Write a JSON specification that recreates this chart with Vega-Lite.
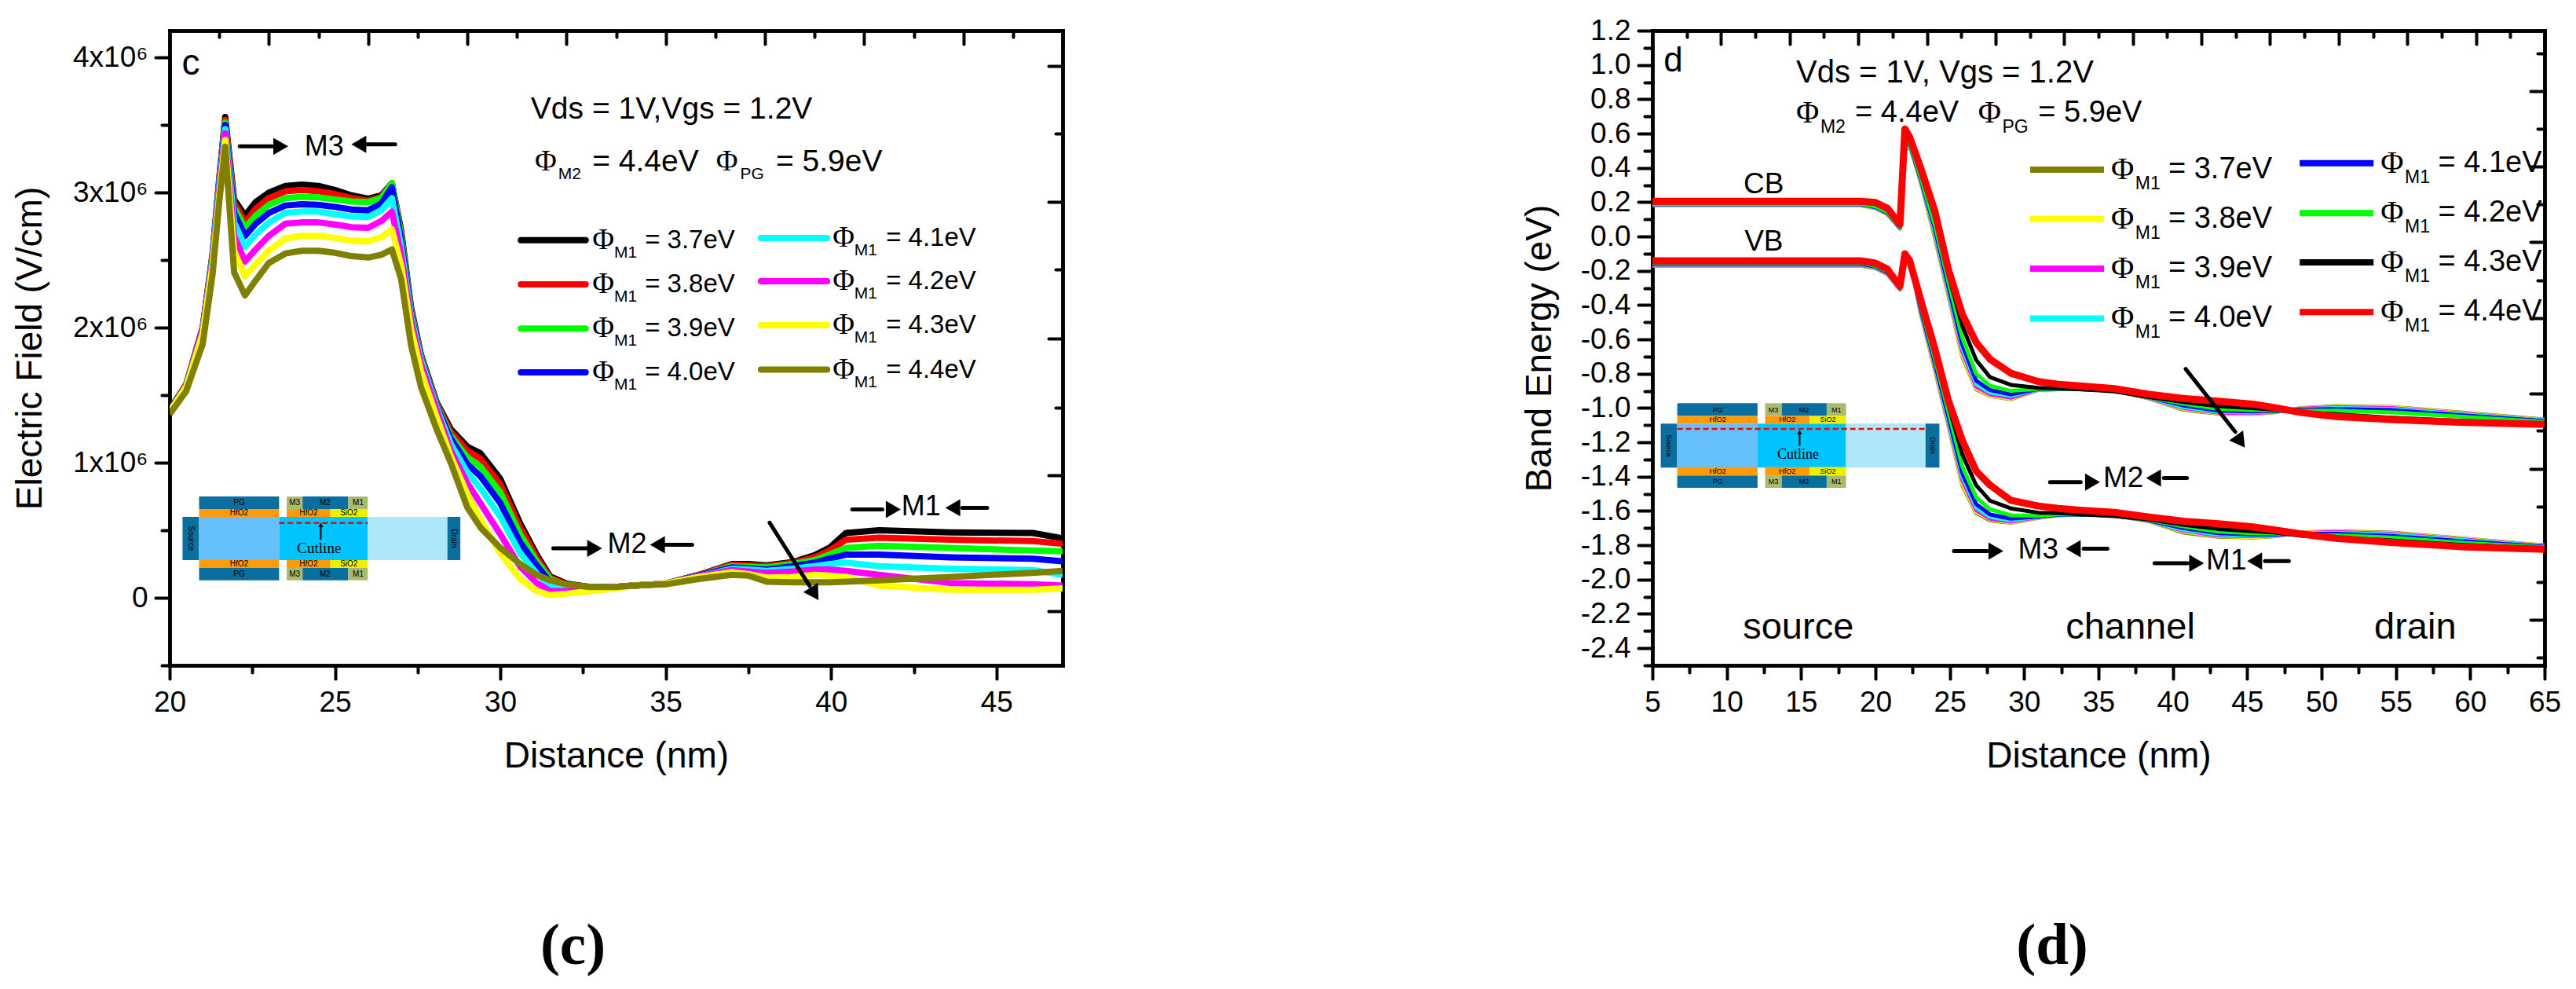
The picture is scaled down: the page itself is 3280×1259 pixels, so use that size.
{"$schema":"https://vega.github.io/schema/vega-lite/v6.json","background":"white","padding":{"left":15,"top":20,"right":0,"bottom":0},"bounds":"flush","spacing":751,"resolve":{"scale":{"color":"independent"}},"config":{"view":{"stroke":null},"legend":{"disable":true},"axis":{"grid":false,"domainColor":"black","domainWidth":4.5,"domainCap":"square","tickColor":"black","tickWidth":4,"tickCap":"round","labelFont":"Liberation Sans","labelFontSize":37,"labelColor":"black","titleFont":"Liberation Sans","titleFontSize":46,"titleFontWeight":"normal","titleColor":"black","labelOverlap":false,"labelFlush":false},"text":{"font":"Liberation Sans","color":"black","baseline":"middle"}},
"datasets":{
"field":[
{"x":20,"phi37":1.39e6,"phi38":1.39e6,"phi39":1.39e6,"phi40":1.39e6,"phi41":1.38e6,"phi42":1.38e6,"phi43":1.38e6,"phi44":1.36e6},
{"x":20.5,"phi37":1.58e6,"phi38":1.58e6,"phi39":1.57e6,"phi40":1.57e6,"phi41":1.57e6,"phi42":1.56e6,"phi43":1.56e6,"phi44":1.53e6},
{"x":21,"phi37":2.0e6,"phi38":2.0e6,"phi39":1.99e6,"phi40":1.99e6,"phi41":1.98e6,"phi42":1.98e6,"phi43":1.96e6,"phi44":1.88e6},
{"x":21.3,"phi37":2.55e6,"phi38":2.55e6,"phi39":2.54e6,"phi40":2.53e6,"phi41":2.52e6,"phi42":2.5e6,"phi43":2.47e6,"phi44":2.4e6},
{"x":21.5,"phi37":3.1e6,"phi38":3.1e6,"phi39":3.09e6,"phi40":3.08e6,"phi41":3.05e6,"phi42":3.02e6,"phi43":2.98e6,"phi44":2.93e6},
{"x":21.68,"phi37":3.56e6,"phi38":3.54e6,"phi39":3.52e6,"phi40":3.5e6,"phi41":3.47e6,"phi42":3.44e6,"phi43":3.39e6,"phi44":3.34e6},
{"x":21.95,"phi37":2.95e6,"phi38":2.93e6,"phi39":2.89e6,"phi40":2.85e6,"phi41":2.78e6,"phi42":2.68e6,"phi43":2.57e6,"phi44":2.41e6},
{"x":22.28,"phi37":2.83e6,"phi38":2.78e6,"phi39":2.74e6,"phi40":2.68e6,"phi41":2.6e6,"phi42":2.49e6,"phi43":2.38e6,"phi44":2.24e6},
{"x":22.6,"phi37":2.93e6,"phi38":2.88e6,"phi39":2.83e6,"phi40":2.77e6,"phi41":2.69e6,"phi42":2.58e6,"phi43":2.47e6,"phi44":2.35e6},
{"x":23,"phi37":3.0e6,"phi38":2.96e6,"phi39":2.91e6,"phi40":2.85e6,"phi41":2.78e6,"phi42":2.68e6,"phi43":2.57e6,"phi44":2.48e6},
{"x":23.5,"phi37":3.05e6,"phi38":3.01e6,"phi39":2.96e6,"phi40":2.905e6,"phi41":2.85e6,"phi42":2.77e6,"phi43":2.66e6,"phi44":2.55e6},
{"x":24,"phi37":3.06e6,"phi38":3.02e6,"phi39":2.97e6,"phi40":2.915e6,"phi41":2.86e6,"phi42":2.78e6,"phi43":2.68e6,"phi44":2.57e6},
{"x":24.5,"phi37":3.05e6,"phi38":3.01e6,"phi39":2.965e6,"phi40":2.91e6,"phi41":2.86e6,"phi42":2.78e6,"phi43":2.68e6,"phi44":2.57e6},
{"x":25,"phi37":3.02e6,"phi38":2.99e6,"phi39":2.95e6,"phi40":2.895e6,"phi41":2.84e6,"phi42":2.765e6,"phi43":2.665e6,"phi44":2.555e6},
{"x":25.5,"phi37":2.98e6,"phi38":2.96e6,"phi39":2.935e6,"phi40":2.875e6,"phi41":2.825e6,"phi42":2.745e6,"phi43":2.645e6,"phi44":2.53e6},
{"x":26,"phi37":2.955e6,"phi38":2.94e6,"phi39":2.93e6,"phi40":2.87e6,"phi41":2.82e6,"phi42":2.74e6,"phi43":2.64e6,"phi44":2.52e6},
{"x":26.4,"phi37":2.98e6,"phi38":2.97e6,"phi39":2.96e6,"phi40":2.92e6,"phi41":2.87e6,"phi42":2.79e6,"phi43":2.67e6,"phi44":2.54e6},
{"x":26.72,"phi37":3.07e6,"phi38":3.07e6,"phi39":3.07e6,"phi40":3.04e6,"phi41":2.96e6,"phi42":2.86e6,"phi43":2.73e6,"phi44":2.58e6},
{"x":27,"phi37":2.72e6,"phi38":2.7e6,"phi39":2.68e6,"phi40":2.65e6,"phi41":2.6e6,"phi42":2.54e6,"phi43":2.46e6,"phi44":2.36e6},
{"x":27.3,"phi37":2.15e6,"phi38":2.13e6,"phi39":2.12e6,"phi40":2.1e6,"phi41":2.08e6,"phi42":2.05e6,"phi43":1.99e6,"phi44":1.87e6},
{"x":27.6,"phi37":1.8e6,"phi38":1.79e6,"phi39":1.78e6,"phi40":1.77e6,"phi41":1.76e6,"phi42":1.73e6,"phi43":1.68e6,"phi44":1.56e6},
{"x":28.07,"phi37":1.45e6,"phi38":1.44e6,"phi39":1.43e6,"phi40":1.42e6,"phi41":1.41e6,"phi42":1.39e6,"phi43":1.34e6,"phi44":1.25e6},
{"x":28.5,"phi37":1.25e6,"phi38":1.23e6,"phi39":1.2e6,"phi40":1.18e6,"phi41":1.14e6,"phi42":1.09e6,"phi43":1.05e6,"phi44":1.0e6},
{"x":29,"phi37":1.12e6,"phi38":1.09e6,"phi39":1.04e6,"phi40":0.99e6,"phi41":0.93e6,"phi42":0.85e6,"phi43":0.77e6,"phi44":0.67e6},
{"x":29.4,"phi37":1.07e6,"phi38":1.03e6,"phi39":0.97e6,"phi40":0.9e6,"phi41":0.81e6,"phi42":0.7e6,"phi43":0.58e6,"phi44":0.52e6},
{"x":30,"phi37":0.88e6,"phi38":0.84e6,"phi39":0.78e6,"phi40":0.7e6,"phi41":0.6e6,"phi42":0.47e6,"phi43":0.33e6,"phi44":0.37e6},
{"x":30.6,"phi37":0.55e6,"phi38":0.52e6,"phi39":0.47e6,"phi40":0.41e6,"phi41":0.33e6,"phi42":0.23e6,"phi43":0.14e6,"phi44":0.25e6},
{"x":31.1,"phi37":0.32e6,"phi38":0.3e6,"phi39":0.27e6,"phi40":0.24e6,"phi41":0.18e6,"phi42":0.11e6,"phi43":0.05e6,"phi44":0.17e6},
{"x":31.5,"phi37":0.16e6,"phi38":0.15e6,"phi39":0.14e6,"phi40":0.12e6,"phi41":0.09e6,"phi42":0.05e6,"phi43":0.02e6,"phi44":0.13e6},
{"x":32,"phi37":0.105e6,"phi38":0.1e6,"phi39":0.09e6,"phi40":0.08e6,"phi41":0.07e6,"phi42":0.05e6,"phi43":0.03e6,"phi44":0.1e6},
{"x":32.7,"phi37":0.08e6,"phi38":0.08e6,"phi39":0.08e6,"phi40":0.075e6,"phi41":0.07e6,"phi42":0.065e6,"phi43":0.05e6,"phi44":0.08e6},
{"x":33.5,"phi37":0.08e6,"phi38":0.08e6,"phi39":0.08e6,"phi40":0.08e6,"phi41":0.08e6,"phi42":0.08e6,"phi43":0.07e6,"phi44":0.08e6},
{"x":34,"phi37":0.09e6,"phi38":0.09e6,"phi39":0.09e6,"phi40":0.09e6,"phi41":0.09e6,"phi42":0.09e6,"phi43":0.09e6,"phi44":0.09e6},
{"x":35,"phi37":0.105e6,"phi38":0.105e6,"phi39":0.105e6,"phi40":0.105e6,"phi41":0.105e6,"phi42":0.105e6,"phi43":0.105e6,"phi44":0.1e6},
{"x":36,"phi37":0.17e6,"phi38":0.17e6,"phi39":0.165e6,"phi40":0.165e6,"phi41":0.16e6,"phi42":0.16e6,"phi43":0.155e6,"phi44":0.14e6},
{"x":37,"phi37":0.25e6,"phi38":0.245e6,"phi39":0.235e6,"phi40":0.225e6,"phi41":0.215e6,"phi42":0.205e6,"phi43":0.19e6,"phi44":0.17e6},
{"x":37.5,"phi37":0.25e6,"phi38":0.24e6,"phi39":0.23e6,"phi40":0.22e6,"phi41":0.21e6,"phi42":0.195e6,"phi43":0.175e6,"phi44":0.165e6},
{"x":38.05,"phi37":0.24e6,"phi38":0.235e6,"phi39":0.225e6,"phi40":0.21e6,"phi41":0.2e6,"phi42":0.185e6,"phi43":0.15e6,"phi44":0.12e6},
{"x":38.85,"phi37":0.265e6,"phi38":0.26e6,"phi39":0.25e6,"phi40":0.235e6,"phi41":0.215e6,"phi42":0.195e6,"phi43":0.155e6,"phi44":0.115e6},
{"x":39.5,"phi37":0.315e6,"phi38":0.3e6,"phi39":0.28e6,"phi40":0.26e6,"phi41":0.235e6,"phi42":0.21e6,"phi43":0.17e6,"phi44":0.115e6},
{"x":39.95,"phi37":0.37e6,"phi38":0.35e6,"phi39":0.32e6,"phi40":0.29e6,"phi41":0.25e6,"phi42":0.21e6,"phi43":0.165e6,"phi44":0.115e6},
{"x":40.45,"phi37":0.48e6,"phi38":0.43e6,"phi39":0.37e6,"phi40":0.32e6,"phi41":0.26e6,"phi42":0.2e6,"phi43":0.155e6,"phi44":0.12e6},
{"x":41.45,"phi37":0.5e6,"phi38":0.445e6,"phi39":0.385e6,"phi40":0.32e6,"phi41":0.235e6,"phi42":0.17e6,"phi43":0.09e6,"phi44":0.13e6},
{"x":43.6,"phi37":0.485e6,"phi38":0.43e6,"phi39":0.37e6,"phi40":0.3e6,"phi41":0.215e6,"phi42":0.11e6,"phi43":0.06e6,"phi44":0.155e6},
{"x":46.1,"phi37":0.48e6,"phi38":0.42e6,"phi39":0.35e6,"phi40":0.29e6,"phi41":0.205e6,"phi42":0.1e6,"phi43":0.06e6,"phi44":0.185e6},
{"x":47,"phi37":0.44e6,"phi38":0.4e6,"phi39":0.345e6,"phi40":0.27e6,"phi41":0.17e6,"phi42":0.09e6,"phi43":0.07e6,"phi44":0.2e6}
],
"bands":[
{"b":"CB","x":5,"phi37":0.182,"phi38":0.183,"phi39":0.184,"phi40":0.186,"phi41":0.188,"phi42":0.19,"phi43":0.2,"phi44":0.205},
{"b":"CB","x":19,"phi37":0.182,"phi38":0.183,"phi39":0.184,"phi40":0.186,"phi41":0.188,"phi42":0.19,"phi43":0.2,"phi44":0.205},
{"b":"CB","x":20,"phi37":0.165,"phi38":0.166,"phi39":0.168,"phi40":0.17,"phi41":0.172,"phi42":0.175,"phi43":0.19,"phi44":0.198},
{"b":"CB","x":20.8,"phi37":0.13,"phi38":0.131,"phi39":0.133,"phi40":0.135,"phi41":0.138,"phi42":0.142,"phi43":0.155,"phi44":0.165},
{"b":"CB","x":21.65,"phi37":0.046,"phi38":0.047,"phi39":0.048,"phi40":0.05,"phi41":0.052,"phi42":0.055,"phi43":0.065,"phi44":0.07},
{"b":"CB","x":21.98,"phi37":0.5,"phi38":0.51,"phi39":0.52,"phi40":0.53,"phi41":0.54,"phi42":0.56,"phi43":0.6,"phi44":0.627},
{"b":"CB","x":22.3,"phi37":0.53,"phi38":0.53,"phi39":0.535,"phi40":0.535,"phi41":0.54,"phi42":0.545,"phi43":0.56,"phi44":0.58},
{"b":"CB","x":23.05,"phi37":0.316,"phi38":0.32,"phi39":0.325,"phi40":0.33,"phi41":0.335,"phi42":0.345,"phi43":0.37,"phi44":0.398},
{"b":"CB","x":23.98,"phi37":0,"phi38":0.01,"phi39":0.02,"phi40":0.03,"phi41":0.05,"phi42":0.07,"phi43":0.12,"phi44":0.152},
{"b":"CB","x":24.9,"phi37":-0.34,"phi38":-0.33,"phi39":-0.32,"phi40":-0.31,"phi41":-0.29,"phi42":-0.26,"phi43":-0.22,"phi44":-0.19},
{"b":"CB","x":25.84,"phi37":-0.7,"phi38":-0.69,"phi39":-0.67,"phi40":-0.65,"phi41":-0.63,"phi42":-0.59,"phi43":-0.52,"phi44":-0.453},
{"b":"CB","x":26.77,"phi37":-0.89,"phi38":-0.885,"phi39":-0.875,"phi40":-0.86,"phi41":-0.84,"phi42":-0.8,"phi43":-0.72,"phi44":-0.617},
{"b":"CB","x":27.7,"phi37":-0.93,"phi38":-0.928,"phi39":-0.92,"phi40":-0.91,"phi41":-0.895,"phi42":-0.87,"phi43":-0.82,"phi44":-0.715},
{"b":"CB","x":29.1,"phi37":-0.948,"phi38":-0.945,"phi39":-0.94,"phi40":-0.93,"phi41":-0.92,"phi42":-0.9,"phi43":-0.865,"phi44":-0.797},
{"b":"CB","x":30.95,"phi37":-0.895,"phi38":-0.895,"phi39":-0.893,"phi40":-0.892,"phi41":-0.89,"phi42":-0.888,"phi43":-0.882,"phi44":-0.846},
{"b":"CB","x":32.3,"phi37":-0.89,"phi38":-0.89,"phi39":-0.89,"phi40":-0.889,"phi41":-0.888,"phi42":-0.887,"phi43":-0.885,"phi44":-0.862},
{"b":"CB","x":33.74,"phi37":-0.89,"phi38":-0.89,"phi39":-0.89,"phi40":-0.89,"phi41":-0.89,"phi42":-0.89,"phi43":-0.89,"phi44":-0.871},
{"b":"CB","x":36.07,"phi37":-0.895,"phi38":-0.895,"phi39":-0.895,"phi40":-0.895,"phi41":-0.896,"phi42":-0.898,"phi43":-0.903,"phi44":-0.887},
{"b":"CB","x":38.4,"phi37":-0.944,"phi38":-0.943,"phi39":-0.942,"phi40":-0.94,"phi41":-0.938,"phi42":-0.937,"phi43":-0.936,"phi44":-0.92},
{"b":"CB","x":40.7,"phi37":-1.01,"phi38":-1.005,"phi39":-1,"phi40":-0.995,"phi41":-0.985,"phi42":-0.975,"phi43":-0.965,"phi44":-0.944},
{"b":"CB","x":43.05,"phi37":-1.033,"phi38":-1.03,"phi39":-1.027,"phi40":-1.022,"phi41":-1.015,"phi42":-1.005,"phi43":-0.989,"phi44":-0.96},
{"b":"CB","x":45.37,"phi37":-1.034,"phi38":-1.032,"phi39":-1.03,"phi40":-1.026,"phi41":-1.02,"phi42":-1.012,"phi43":-1,"phi44":-0.977},
{"b":"CB","x":46.77,"phi37":-1.025,"phi38":-1.024,"phi39":-1.023,"phi40":-1.021,"phi41":-1.018,"phi42":-1.014,"phi43":-1.01,"phi44":-0.997},
{"b":"CB","x":48.63,"phi37":-1,"phi38":-1.002,"phi39":-1.004,"phi40":-1.007,"phi41":-1.01,"phi42":-1.015,"phi43":-1.025,"phi44":-1.026},
{"b":"CB","x":50.95,"phi37":-0.989,"phi38":-0.992,"phi39":-0.996,"phi40":-1,"phi41":-1.006,"phi42":-1.015,"phi43":-1.036,"phi44":-1.05},
{"b":"CB","x":54.67,"phi37":-0.993,"phi38":-0.996,"phi39":-1,"phi40":-1.005,"phi41":-1.012,"phi42":-1.025,"phi43":-1.056,"phi44":-1.067},
{"b":"CB","x":59.3,"phi37":-1.026,"phi38":-1.029,"phi39":-1.032,"phi40":-1.036,"phi41":-1.042,"phi42":-1.05,"phi43":-1.075,"phi44":-1.083},
{"b":"CB","x":65,"phi37":-1.067,"phi38":-1.069,"phi39":-1.071,"phi40":-1.073,"phi41":-1.076,"phi42":-1.08,"phi43":-1.09,"phi44":-1.095},
{"b":"VB","x":5,"phi37":-0.17,"phi38":-0.168,"phi39":-0.166,"phi40":-0.164,"phi41":-0.16,"phi42":-0.155,"phi43":-0.15,"phi44":-0.142},
{"b":"VB","x":19,"phi37":-0.17,"phi38":-0.168,"phi39":-0.166,"phi40":-0.164,"phi41":-0.16,"phi42":-0.155,"phi43":-0.15,"phi44":-0.142},
{"b":"VB","x":20,"phi37":-0.185,"phi38":-0.183,"phi39":-0.181,"phi40":-0.178,"phi41":-0.175,"phi42":-0.17,"phi43":-0.165,"phi44":-0.155},
{"b":"VB","x":20.8,"phi37":-0.22,"phi38":-0.218,"phi39":-0.216,"phi40":-0.213,"phi41":-0.21,"phi42":-0.205,"phi43":-0.195,"phi44":-0.19},
{"b":"VB","x":21.65,"phi37":-0.31,"phi38":-0.308,"phi39":-0.306,"phi40":-0.304,"phi41":-0.302,"phi42":-0.3,"phi43":-0.295,"phi44":-0.29},
{"b":"VB","x":21.98,"phi37":-0.13,"phi38":-0.128,"phi39":-0.125,"phi40":-0.122,"phi41":-0.12,"phi42":-0.115,"phi43":-0.105,"phi44":-0.101},
{"b":"VB","x":22.3,"phi37":-0.13,"phi38":-0.13,"phi39":-0.13,"phi40":-0.13,"phi41":-0.13,"phi42":-0.13,"phi43":-0.13,"phi44":-0.14},
{"b":"VB","x":23.05,"phi37":-0.45,"phi38":-0.445,"phi39":-0.44,"phi40":-0.435,"phi41":-0.425,"phi42":-0.41,"phi43":-0.39,"phi44":-0.372},
{"b":"VB","x":23.98,"phi37":-0.77,"phi38":-0.76,"phi39":-0.75,"phi40":-0.74,"phi41":-0.73,"phi42":-0.71,"phi43":-0.68,"phi44":-0.65},
{"b":"VB","x":24.9,"phi37":-1.1,"phi38":-1.09,"phi39":-1.08,"phi40":-1.07,"phi41":-1.05,"phi42":-1.02,"phi43":-0.98,"phi44":-0.955},
{"b":"VB","x":25.84,"phi37":-1.45,"phi38":-1.44,"phi39":-1.42,"phi40":-1.4,"phi41":-1.38,"phi42":-1.34,"phi43":-1.27,"phi44":-1.188},
{"b":"VB","x":26.77,"phi37":-1.612,"phi38":-1.605,"phi39":-1.595,"phi40":-1.58,"phi41":-1.56,"phi42":-1.52,"phi43":-1.45,"phi44":-1.367},
{"b":"VB","x":27.7,"phi37":-1.655,"phi38":-1.65,"phi39":-1.645,"phi40":-1.635,"phi41":-1.62,"phi42":-1.59,"phi43":-1.54,"phi44":-1.449},
{"b":"VB","x":29.1,"phi37":-1.669,"phi38":-1.667,"phi39":-1.662,"phi40":-1.655,"phi41":-1.645,"phi42":-1.625,"phi43":-1.585,"phi44":-1.538},
{"b":"VB","x":30.95,"phi37":-1.64,"phi38":-1.638,"phi39":-1.636,"phi40":-1.634,"phi41":-1.632,"phi42":-1.628,"phi43":-1.61,"phi44":-1.571},
{"b":"VB","x":32.3,"phi37":-1.625,"phi38":-1.625,"phi39":-1.624,"phi40":-1.623,"phi41":-1.622,"phi42":-1.62,"phi43":-1.612,"phi44":-1.585},
{"b":"VB","x":33.74,"phi37":-1.62,"phi38":-1.62,"phi39":-1.62,"phi40":-1.62,"phi41":-1.62,"phi42":-1.62,"phi43":-1.62,"phi44":-1.595},
{"b":"VB","x":36.07,"phi37":-1.625,"phi38":-1.625,"phi39":-1.625,"phi40":-1.626,"phi41":-1.627,"phi42":-1.628,"phi43":-1.63,"phi44":-1.608},
{"b":"VB","x":38.4,"phi37":-1.66,"phi38":-1.66,"phi39":-1.658,"phi40":-1.657,"phi41":-1.655,"phi42":-1.653,"phi43":-1.65,"phi44":-1.636},
{"b":"VB","x":40.7,"phi37":-1.726,"phi38":-1.72,"phi39":-1.715,"phi40":-1.71,"phi41":-1.7,"phi42":-1.69,"phi43":-1.68,"phi44":-1.66},
{"b":"VB","x":43.05,"phi37":-1.75,"phi38":-1.747,"phi39":-1.743,"phi40":-1.738,"phi41":-1.73,"phi42":-1.72,"phi43":-1.705,"phi44":-1.674},
{"b":"VB","x":45.37,"phi37":-1.755,"phi38":-1.752,"phi39":-1.748,"phi40":-1.744,"phi41":-1.738,"phi42":-1.73,"phi43":-1.718,"phi44":-1.693},
{"b":"VB","x":46.77,"phi37":-1.748,"phi38":-1.747,"phi39":-1.745,"phi40":-1.742,"phi41":-1.738,"phi42":-1.732,"phi43":-1.725,"phi44":-1.71},
{"b":"VB","x":48.63,"phi37":-1.725,"phi38":-1.726,"phi39":-1.728,"phi40":-1.73,"phi41":-1.733,"phi42":-1.738,"phi43":-1.745,"phi44":-1.734},
{"b":"VB","x":50.95,"phi37":-1.718,"phi38":-1.72,"phi39":-1.723,"phi40":-1.727,"phi41":-1.733,"phi42":-1.742,"phi43":-1.755,"phi44":-1.759},
{"b":"VB","x":54.67,"phi37":-1.726,"phi38":-1.729,"phi39":-1.733,"phi40":-1.738,"phi41":-1.745,"phi42":-1.755,"phi43":-1.772,"phi44":-1.783},
{"b":"VB","x":59.3,"phi37":-1.759,"phi38":-1.762,"phi39":-1.765,"phi40":-1.769,"phi41":-1.775,"phi42":-1.785,"phi43":-1.797,"phi44":-1.808},
{"b":"VB","x":65,"phi37":-1.8,"phi38":-1.802,"phi39":-1.804,"phi40":-1.806,"phi41":-1.809,"phi42":-1.812,"phi43":-1.818,"phi44":-1.824}
]},
"hconcat":[
{"width":1137,"height":808,"title":{"text":"(c)","orient":"bottom","anchor":"middle","font":"Liberation Serif","fontWeight":"bold","fontSize":75,"color":"black","dx":-55,"offset":183},
"resolve":{"axis":{"x":"independent","y":"independent"}},
"encoding":{"x":{"field":"x","type":"quantitative","scale":{"domain":[20,47],"nice":false,"zero":false},"axis":null},"y":{"field":"y","type":"quantitative","scale":{"domain":[-500000,4200000],"nice":false,"zero":false},"axis":null}},
"layer":[
{"data":{"values":[
{"part":"gate","x":20.39,"x2":20.89,"y":0.28e6,"y2":0.6e6},{"part":"sourceRegion","x":20.89,"x2":23.31,"y":0.28e6,"y2":0.6e6},{"part":"channel","x":23.31,"x2":25.99,"y":0.28e6,"y2":0.6e6},{"part":"drainRegion","x":25.99,"x2":28.4,"y":0.28e6,"y2":0.6e6},{"part":"gate","x":28.4,"x2":28.79,"y":0.28e6,"y2":0.6e6},
{"part":"gate","x":20.89,"x2":23.31,"y":0.658e6,"y2":0.75e6},{"part":"oxide","x":20.89,"x2":23.31,"y":0.6e6,"y2":0.658e6},{"part":"metal","x":23.54,"x2":24.02,"y":0.658e6,"y2":0.75e6},{"part":"gate","x":24.02,"x2":25.4,"y":0.658e6,"y2":0.75e6},{"part":"metal","x":25.4,"x2":25.99,"y":0.658e6,"y2":0.75e6},{"part":"oxide","x":23.54,"x2":24.86,"y":0.6e6,"y2":0.658e6},{"part":"sio2","x":24.86,"x2":25.99,"y":0.6e6,"y2":0.658e6},
{"part":"gate","x":20.89,"x2":23.31,"y":0.13e6,"y2":0.222e6},{"part":"oxide","x":20.89,"x2":23.31,"y":0.222e6,"y2":0.28e6},{"part":"metal","x":23.54,"x2":24.02,"y":0.13e6,"y2":0.222e6},{"part":"gate","x":24.02,"x2":25.4,"y":0.13e6,"y2":0.222e6},{"part":"metal","x":25.4,"x2":25.99,"y":0.13e6,"y2":0.222e6},{"part":"oxide","x":23.54,"x2":24.86,"y":0.222e6,"y2":0.28e6},{"part":"sio2","x":24.86,"x2":25.99,"y":0.222e6,"y2":0.28e6}
]},"mark":{"type":"rect"},"encoding":{"x2":{"field":"x2"},"y2":{"field":"y2"},"color":{"field":"part","type":"nominal","legend":null,"scale":{"domain":["phi37","phi38","phi39","phi40","phi41","phi42","phi43","phi44","gate","oxide","sio2","metal","sourceRegion","channel","drainRegion"],"range":["#000000","#ff0000","#00ff00","#0000ff","#00ffff","#ff00ff","#ffff00","#808000","#0a6f9f","#ff9a0a","#eef000","#a9b96e","#66c0fb","#00c4ff","#aee6fc"]}}}},
{"data":{"values":[{"x":23.31,"x2":25.99,"y":0.555e6}]},"mark":{"type":"rule","color":"#ff0000","strokeWidth":2.5,"strokeDash":[7,4]},"encoding":{"x2":{"field":"x2"}}},
{"data":{"values":[{"x":24.57,"y":0.43e6,"y2":0.54e6}]},"mark":{"type":"rule","color":"black","strokeWidth":2},"encoding":{"y2":{"field":"y2"}}},
{"data":{"values":[{"x":22.1,"y":0.704e6,"t":"PG"},{"x":22.1,"y":0.63e6,"t":"HfO2"},{"x":23.78,"y":0.704e6,"t":"M3"},{"x":24.7,"y":0.704e6,"t":"M2"},{"x":25.7,"y":0.704e6,"t":"M1"},{"x":24.2,"y":0.63e6,"t":"HfO2"},{"x":25.42,"y":0.63e6,"t":"SiO2"},{"x":22.1,"y":0.176e6,"t":"PG"},{"x":22.1,"y":0.25e6,"t":"HfO2"},{"x":23.78,"y":0.176e6,"t":"M3"},{"x":24.7,"y":0.176e6,"t":"M2"},{"x":25.7,"y":0.176e6,"t":"M1"},{"x":24.2,"y":0.25e6,"t":"HfO2"},{"x":25.42,"y":0.25e6,"t":"SiO2"}]},"mark":{"type":"text","fontSize":10,"align":"center"},"encoding":{"text":{"field":"t"}}},
{"data":{"values":[{"x":20.64,"y":0.44e6,"t":"Source"},{"x":28.6,"y":0.44e6,"t":"Drain"}]},"mark":{"type":"text","fontSize":10,"align":"center","angle":90},"encoding":{"text":{"field":"t"}}},
{"data":{"values":[{"x":24.52,"y":0.364e6,"t":"Cutline"}]},"mark":{"type":"text","font":"Liberation Serif","fontSize":19,"align":"center"},"encoding":{"text":{"field":"t"}}},
{"data":{"name":"field"},"transform":[{"fold":["phi37","phi38","phi39","phi40","phi41","phi42","phi43","phi44"],"as":["series","y"]}],"mark":{"type":"line","strokeWidth":8,"strokeJoin":"round","clip":true},"encoding":{
"x":{"field":"x","type":"quantitative","scale":{"domain":[20,47],"nice":false,"zero":false},"axis":{"orient":"bottom","values":[20,25,30,35,40,45],"format":"d","title":"Distance (nm)","tickSize":17,"labelPadding":12,"titlePadding":28}},
"y":{"field":"y","type":"quantitative","scale":{"domain":[-500000,4200000],"nice":false,"zero":false},"axis":{"orient":"left","values":[0,1000000,2000000,3000000,4000000],"labelExpr":"datum.value==0?'0':(datum.value/1000000)+'x10⁶'","title":"Electric Field (V/cm)","tickSize":18,"labelPadding":10,"titlePadding":30}},
"color":{"field":"series","type":"nominal","legend":null,"scale":{"domain":["phi37","phi38","phi39","phi40","phi41","phi42","phi43","phi44","gate","oxide","sio2","metal","sourceRegion","channel","drainRegion"],"range":["#000000","#ff0000","#00ff00","#0000ff","#00ffff","#ff00ff","#ffff00","#808000","#0a6f9f","#ff9a0a","#eef000","#a9b96e","#66c0fb","#00c4ff","#aee6fc"]}}}},
{"data":{"values":[{"x":20,"y":0}]},"mark":{"type":"text","opacity":0},"encoding":{
"x":{"field":"x","type":"quantitative","scale":{"domain":[20,47],"nice":false,"zero":false},"axis":{"orient":"bottom","values":[22.5,27.5,32.5,37.5,42.5],"labels":false,"title":null,"tickSize":9}},
"y":{"field":"y","type":"quantitative","scale":{"domain":[-500000,4200000],"nice":false,"zero":false},"axis":{"orient":"left","values":[-500000,500000,1500000,2500000,3500000],"labels":false,"title":null,"tickSize":10}}}},
{"data":{"values":[{"x":20,"y":0}]},"mark":{"type":"text","opacity":0},"encoding":{
"x":{"field":"x","type":"quantitative","scale":{"domain":[20,47],"nice":false,"zero":false},"axis":{"orient":"top","values":[23,26,29,32,35,38,41,44,47],"labels":false,"title":null,"tickSize":-17}},
"y":{"field":"y","type":"quantitative","scale":{"domain":[-500000,4200000],"nice":false,"zero":false},"axis":{"orient":"right","values":[3940000,2930000,1920000,910000,-100000],"labels":false,"title":null,"tickSize":-18}}}},
{"data":{"values":[{"x":20,"y":0}]},"mark":{"type":"text","opacity":0},"encoding":{
"x":{"field":"x","type":"quantitative","scale":{"domain":[20,47],"nice":false,"zero":false},"axis":{"orient":"top","values":[21.5,24.5,27.5,30.5,33.5,36.5,39.5,42.5,45.5],"labels":false,"title":null,"tickSize":-8}},
"y":{"field":"y","type":"quantitative","scale":{"domain":[-500000,4200000],"nice":false,"zero":false},"axis":{"orient":"right","values":[3440000,2430000,1410000,410000],"labels":false,"title":null,"tickSize":-9}}}},
{"data":{"values":[{"s":"phi37","x":30.62,"x2":32.58,"y":2.648e6},{"s":"phi38","x":30.62,"x2":32.58,"y":2.321e6},{"s":"phi39","x":30.62,"x2":32.58,"y":1.994e6},{"s":"phi40","x":30.62,"x2":32.58,"y":1.669e6},{"s":"phi41","x":37.88,"x2":39.88,"y":2.664e6},{"s":"phi42","x":37.88,"x2":39.88,"y":2.345e6},{"s":"phi43","x":37.88,"x2":39.88,"y":2.018e6},{"s":"phi44","x":37.88,"x2":39.88,"y":1.69e6}]},"mark":{"type":"rule","strokeWidth":8,"strokeCap":"round"},"encoding":{"x2":{"field":"x2"},"color":{"field":"s","type":"nominal","legend":null,"scale":{"domain":["phi37","phi38","phi39","phi40","phi41","phi42","phi43","phi44","gate","oxide","sio2","metal","sourceRegion","channel","drainRegion"],"range":["#000000","#ff0000","#00ff00","#0000ff","#00ffff","#ff00ff","#ffff00","#808000","#0a6f9f","#ff9a0a","#eef000","#a9b96e","#66c0fb","#00c4ff","#aee6fc"]}}}},
{"data":{"values":[{"x":34.37,"y":2.648e6,"t":"= 3.7eV"},{"x":34.37,"y":2.321e6,"t":"= 3.8eV"},{"x":34.37,"y":1.994e6,"t":"= 3.9eV"},{"x":34.37,"y":1.669e6,"t":"= 4.0eV"},{"x":41.66,"y":2.664e6,"t":"= 4.1eV"},{"x":41.66,"y":2.345e6,"t":"= 4.2eV"},{"x":41.66,"y":2.018e6,"t":"= 4.3eV"},{"x":41.66,"y":1.69e6,"t":"= 4.4eV"}]},"mark":{"type":"text","fontSize":33,"align":"left"},"encoding":{"text":{"field":"t"}}},
{"data":{"values":[{"x":30.92,"y":3.616e6,"t":"Vds = 1V,Vgs = 1.2V"},{"x":32.78,"y":3.227e6,"t":"= 4.4eV"},{"x":38.33,"y":3.227e6,"t":"= 5.9eV"}]},"mark":{"type":"text","fontSize":39,"align":"left"},"encoding":{"text":{"field":"t"}}},
{"data":{"values":[{"x":32.78,"y":2.648e6,"t":"Φ"},{"x":32.78,"y":2.321e6,"t":"Φ"},{"x":32.78,"y":1.994e6,"t":"Φ"},{"x":32.78,"y":1.669e6,"t":"Φ"},{"x":40.05,"y":2.664e6,"t":"Φ"},{"x":40.05,"y":2.345e6,"t":"Φ"},{"x":40.05,"y":2.018e6,"t":"Φ"},{"x":40.05,"y":1.69e6,"t":"Φ"},{"x":31.04,"y":3.227e6,"t":"Φ"},{"x":36.52,"y":3.227e6,"t":"Φ"}]},"mark":{"type":"text","font":"Liberation Serif","fontSize":38,"align":"left"},"encoding":{"text":{"field":"t"}}},
{"data":{"values":[{"x":33.44,"y":2.648e6,"t":"M1"},{"x":33.44,"y":2.321e6,"t":"M1"},{"x":33.44,"y":1.994e6,"t":"M1"},{"x":33.44,"y":1.669e6,"t":"M1"},{"x":40.7,"y":2.664e6,"t":"M1"},{"x":40.7,"y":2.345e6,"t":"M1"},{"x":40.7,"y":2.018e6,"t":"M1"},{"x":40.7,"y":1.69e6,"t":"M1"},{"x":31.75,"y":3.227e6,"t":"M2"},{"x":37.25,"y":3.227e6,"t":"PG"}]},"mark":{"type":"text","fontSize":21,"align":"left","dy":16},"encoding":{"text":{"field":"t"}}},
{"data":{"values":[{"x":24.67,"y":3.34e6,"t":"M3"},{"x":33.83,"y":0.397e6,"t":"M2"},{"x":42.72,"y":0.673e6,"t":"M1"}]},"mark":{"type":"text","fontSize":36,"align":"center"},"encoding":{"text":{"field":"t"}}},
{"data":{"values":[{"x":20.64,"y":3.956e6,"t":"c"}]},"mark":{"type":"text","fontSize":46,"align":"center"},"encoding":{"text":{"field":"t"}}},
{"data":{"values":[{"x":22.12,"x2":23.1,"y":3.343e6,"y2":3.343e6},{"x":26.82,"x2":25.9,"y":3.358e6,"y2":3.358e6},{"x":31.6,"x2":32.6,"y":0.366e6,"y2":0.366e6},{"x":35.8,"x2":35,"y":0.393e6,"y2":0.393e6},{"x":40.64,"x2":41.55,"y":0.655e6,"y2":0.655e6},{"x":44.72,"x2":43.97,"y":0.667e6,"y2":0.667e6},{"x":38.14,"x2":39.35,"y":0.556e6,"y2":0.088e6}]},"mark":{"type":"rule","color":"black","strokeWidth":5,"strokeCap":"round"},"encoding":{"x2":{"field":"x2"},"y2":{"field":"y2"}}},
{"data":{"values":[{"x":23.36,"y":3.343e6,"d":"r"},{"x":25.72,"y":3.358e6,"d":"l"},{"x":32.85,"y":0.366e6,"d":"r"},{"x":34.75,"y":0.393e6,"d":"l"},{"x":41.88,"y":0.655e6,"d":"r"},{"x":43.68,"y":0.667e6,"d":"l"}]},"mark":{"type":"point","filled":true,"color":"black","opacity":1,"size":480},"encoding":{"shape":{"field":"d","type":"nominal","legend":null,"scale":{"domain":["r","l"],"range":["triangle-right","triangle-left"]}}}},
{"data":{"values":[{"x":24.57,"y":0.54e6}]},"mark":{"type":"point","filled":true,"color":"black","opacity":1,"size":40,"shape":"triangle-up"}},
{"data":{"values":[{"x":39.5,"y":0.03e6}]},"mark":{"type":"point","filled":true,"color":"black","opacity":1,"size":480,"shape":"triangle-down","angle":328}}
]},
{"width":1136,"height":808,"title":{"text":"(d)","orient":"bottom","anchor":"middle","font":"Liberation Serif","fontWeight":"bold","fontSize":75,"color":"black","dx":-59,"offset":183},
"resolve":{"axis":{"x":"independent","y":"independent"}},
"encoding":{"x":{"field":"x","type":"quantitative","scale":{"domain":[5,65],"nice":false,"zero":false},"axis":null},"y":{"field":"y","type":"quantitative","scale":{"domain":[-2.5,1.2],"nice":false,"zero":false},"axis":null}},
"layer":[
{"data":{"values":[
{"part":"gate","x":5.56,"x2":6.67,"y":-1.347,"y2":-1.091},{"part":"sourceRegion","x":6.67,"x2":12.07,"y":-1.347,"y2":-1.091},{"part":"channel","x":12.07,"x2":18.02,"y":-1.347,"y2":-1.091},{"part":"drainRegion","x":18.02,"x2":23.37,"y":-1.347,"y2":-1.091},{"part":"gate","x":23.37,"x2":24.3,"y":-1.347,"y2":-1.091},
{"part":"gate","x":6.67,"x2":12.07,"y":-1.046,"y2":-0.972},{"part":"oxide","x":6.67,"x2":12.07,"y":-1.091,"y2":-1.046},{"part":"metal","x":12.58,"x2":13.7,"y":-1.046,"y2":-0.972},{"part":"gate","x":13.7,"x2":16.72,"y":-1.046,"y2":-0.972},{"part":"metal","x":16.72,"x2":18.02,"y":-1.046,"y2":-0.972},{"part":"oxide","x":12.58,"x2":15.56,"y":-1.091,"y2":-1.046},{"part":"sio2","x":15.56,"x2":18.02,"y":-1.091,"y2":-1.046},
{"part":"gate","x":6.67,"x2":12.07,"y":-1.465,"y2":-1.393},{"part":"oxide","x":6.67,"x2":12.07,"y":-1.393,"y2":-1.344},{"part":"metal","x":12.58,"x2":13.7,"y":-1.465,"y2":-1.393},{"part":"gate","x":13.7,"x2":16.72,"y":-1.465,"y2":-1.393},{"part":"metal","x":16.72,"x2":18.02,"y":-1.465,"y2":-1.393},{"part":"oxide","x":12.58,"x2":15.56,"y":-1.393,"y2":-1.344},{"part":"sio2","x":15.56,"x2":18.02,"y":-1.393,"y2":-1.344}
]},"mark":{"type":"rect"},"encoding":{"x2":{"field":"x2"},"y2":{"field":"y2"},"color":{"field":"part","type":"nominal","legend":null,"scale":{"domain":["phi37","phi38","phi39","phi40","phi41","phi42","phi43","phi44","gate","oxide","sio2","metal","sourceRegion","channel","drainRegion"],"range":["#808000","#ffff00","#ff00ff","#00ffff","#0000ff","#00ff00","#000000","#ff0000","#0a6f9f","#ff9a0a","#eef000","#a9b96e","#66c0fb","#00c4ff","#aee6fc"]}}}},
{"data":{"values":[{"x":6.67,"x2":23.37,"y":-1.122}]},"mark":{"type":"rule","color":"#ff0000","strokeWidth":2.5,"strokeDash":[7,4]},"encoding":{"x2":{"field":"x2"}}},
{"data":{"values":[{"x":14.9,"y":-1.22,"y2":-1.14}]},"mark":{"type":"rule","color":"black","strokeWidth":2},"encoding":{"y2":{"field":"y2"}}},
{"data":{"values":[{"x":9.4,"y":-1.01,"t":"PG"},{"x":9.4,"y":-1.068,"t":"HfO2"},{"x":13.14,"y":-1.01,"t":"M3"},{"x":15.2,"y":-1.01,"t":"M2"},{"x":17.37,"y":-1.01,"t":"M1"},{"x":14.07,"y":-1.068,"t":"HfO2"},{"x":16.8,"y":-1.068,"t":"SiO2"},{"x":9.4,"y":-1.429,"t":"PG"},{"x":9.4,"y":-1.368,"t":"HfO2"},{"x":13.14,"y":-1.429,"t":"M3"},{"x":15.2,"y":-1.429,"t":"M2"},{"x":17.37,"y":-1.429,"t":"M1"},{"x":14.07,"y":-1.368,"t":"HfO2"},{"x":16.8,"y":-1.368,"t":"SiO2"}]},"mark":{"type":"text","fontSize":9,"align":"center"},"encoding":{"text":{"field":"t"}}},
{"data":{"values":[{"x":6.1,"y":-1.219,"t":"Source"},{"x":23.85,"y":-1.219,"t":"Drain"}]},"mark":{"type":"text","fontSize":9,"align":"center","angle":90},"encoding":{"text":{"field":"t"}}},
{"data":{"values":[{"x":14.8,"y":-1.274,"t":"Cutline"}]},"mark":{"type":"text","font":"Liberation Serif","fontSize":18,"align":"center"},"encoding":{"text":{"field":"t"}}},
{"data":{"name":"bands"},"transform":[{"fold":["phi37","phi38","phi39","phi40","phi41","phi42","phi43","phi44"],"as":["series","y"]},{"filter":"datum.series!='phi44'"}],"mark":{"type":"line","strokeWidth":5,"strokeJoin":"round","clip":true},"encoding":{
"x":{"field":"x","type":"quantitative","scale":{"domain":[5,65],"nice":false,"zero":false},"axis":{"orient":"bottom","values":[5,10,15,20,25,30,35,40,45,50,55,60,65],"format":"d","title":"Distance (nm)","tickSize":17,"labelPadding":12,"titlePadding":28}},
"y":{"field":"y","type":"quantitative","scale":{"domain":[-2.5,1.2],"nice":false,"zero":false},"axis":{"orient":"left","values":[1.2,1,0.8,0.6,0.4,0.2,0,-0.2,-0.4,-0.6,-0.8,-1,-1.2,-1.4,-1.6,-1.8,-2,-2.2,-2.4],"labelExpr":"replace(format(datum.value,'.1f'),'−','-')","title":"Band Energy (eV)","tickSize":18,"labelPadding":10,"titlePadding":28}},
"detail":{"field":"b"},
"color":{"field":"series","type":"nominal","legend":null,"scale":{"domain":["phi37","phi38","phi39","phi40","phi41","phi42","phi43","phi44","gate","oxide","sio2","metal","sourceRegion","channel","drainRegion"],"range":["#808000","#ffff00","#ff00ff","#00ffff","#0000ff","#00ff00","#000000","#ff0000","#0a6f9f","#ff9a0a","#eef000","#a9b96e","#66c0fb","#00c4ff","#aee6fc"]}}}},
{"data":{"name":"bands"},"transform":[{"fold":["phi44"],"as":["series","y"]}],"mark":{"type":"line","strokeWidth":9,"strokeJoin":"round","clip":true},"encoding":{
"detail":{"field":"b"},
"color":{"field":"series","type":"nominal","legend":null,"scale":{"domain":["phi37","phi38","phi39","phi40","phi41","phi42","phi43","phi44","gate","oxide","sio2","metal","sourceRegion","channel","drainRegion"],"range":["#808000","#ffff00","#ff00ff","#00ffff","#0000ff","#00ff00","#000000","#ff0000","#0a6f9f","#ff9a0a","#eef000","#a9b96e","#66c0fb","#00c4ff","#aee6fc"]}}}},
{"data":{"values":[{"x":5,"y":0}]},"mark":{"type":"text","opacity":0},"encoding":{
"x":{"field":"x","type":"quantitative","scale":{"domain":[5,65],"nice":false,"zero":false},"axis":{"orient":"bottom","values":[7.5,12.5,17.5,22.5,27.5,32.5,37.5,42.5,47.5,52.5,57.5,62.5],"labels":false,"title":null,"tickSize":9}},
"y":{"field":"y","type":"quantitative","scale":{"domain":[-2.5,1.2],"nice":false,"zero":false},"axis":{"orient":"left","values":[1.1,0.9,0.7,0.5,0.3,0.1,-0.1,-0.3,-0.5,-0.7,-0.9,-1.1,-1.3,-1.5,-1.7,-1.9,-2.1,-2.3,-2.5],"labels":false,"title":null,"tickSize":10}}}},
{"data":{"values":[{"x":5,"y":0}]},"mark":{"type":"text","opacity":0},"encoding":{
"x":{"field":"x","type":"quantitative","scale":{"domain":[5,65],"nice":false,"zero":false},"axis":{"orient":"top","values":[9.62,14.23,18.85,23.46,28.08,32.69,37.31,41.92,46.54,51.15,55.77,60.38,65],"labels":false,"title":null,"tickSize":-17}},
"y":{"field":"y","type":"quantitative","scale":{"domain":[-2.5,1.2],"nice":false,"zero":false},"axis":{"orient":"right","values":[0.848,0.409,-0.033,-0.474,-0.915,-1.357,-1.796,-2.233],"labels":false,"title":null,"tickSize":-18}}}},
{"data":{"values":[{"x":5,"y":0}]},"mark":{"type":"text","opacity":0},"encoding":{
"x":{"field":"x","type":"quantitative","scale":{"domain":[5,65],"nice":false,"zero":false},"axis":{"orient":"top","values":[7.31,11.92,16.54,21.15,25.77,30.38,35,39.62,44.23,48.85,53.46,58.08,62.69],"labels":false,"title":null,"tickSize":-8}},
"y":{"field":"y","type":"quantitative","scale":{"domain":[-2.5,1.2],"nice":false,"zero":false},"axis":{"orient":"right","values":[1.069,0.628,0.188,-0.254,-0.694,-1.132,-1.576,-2.015,-2.454],"labels":false,"title":null,"tickSize":-9}}}},
{"data":{"values":[{"s":"phi37","x":30.4,"x2":35.37,"y":0.39},{"s":"phi38","x":30.4,"x2":35.37,"y":0.102},{"s":"phi39","x":30.4,"x2":35.37,"y":-0.188},{"s":"phi40","x":30.4,"x2":35.37,"y":-0.478},{"s":"phi41","x":48.53,"x2":53.5,"y":0.427},{"s":"phi42","x":48.53,"x2":53.5,"y":0.137},{"s":"phi43","x":48.53,"x2":53.5,"y":-0.151},{"s":"phi44","x":48.53,"x2":53.5,"y":-0.44}]},"mark":{"type":"rule","strokeWidth":8},"encoding":{"x2":{"field":"x2"},"color":{"field":"s","type":"nominal","legend":null,"scale":{"domain":["phi37","phi38","phi39","phi40","phi41","phi42","phi43","phi44","gate","oxide","sio2","metal","sourceRegion","channel","drainRegion"],"range":["#808000","#ffff00","#ff00ff","#00ffff","#0000ff","#00ff00","#000000","#ff0000","#0a6f9f","#ff9a0a","#eef000","#a9b96e","#66c0fb","#00c4ff","#aee6fc"]}}}},
{"data":{"values":[{"x":39.7,"y":0.39,"t":"= 3.7eV"},{"x":39.7,"y":0.102,"t":"= 3.8eV"},{"x":39.7,"y":-0.188,"t":"= 3.9eV"},{"x":39.7,"y":-0.478,"t":"= 4.0eV"},{"x":57.84,"y":0.427,"t":"= 4.1eV"},{"x":57.84,"y":0.137,"t":"= 4.2eV"},{"x":57.84,"y":-0.151,"t":"= 4.3eV"},{"x":57.84,"y":-0.44,"t":"= 4.4eV"},{"x":18.63,"y":0.717,"t":"= 4.4eV"},{"x":30.95,"y":0.717,"t":"= 5.9eV"}]},"mark":{"type":"text","fontSize":38,"align":"left"},"encoding":{"text":{"field":"t"}}},
{"data":{"values":[{"x":14.67,"y":0.954,"t":"Vds = 1V, Vgs = 1.2V"}]},"mark":{"type":"text","fontSize":40,"align":"left"},"encoding":{"text":{"field":"t"}}},
{"data":{"values":[{"x":35.84,"y":0.39,"t":"Φ"},{"x":35.84,"y":0.102,"t":"Φ"},{"x":35.84,"y":-0.188,"t":"Φ"},{"x":35.84,"y":-0.478,"t":"Φ"},{"x":53.98,"y":0.427,"t":"Φ"},{"x":53.98,"y":0.137,"t":"Φ"},{"x":53.98,"y":-0.151,"t":"Φ"},{"x":53.98,"y":-0.44,"t":"Φ"},{"x":14.67,"y":0.717,"t":"Φ"},{"x":26.9,"y":0.717,"t":"Φ"}]},"mark":{"type":"text","font":"Liberation Serif","fontSize":40,"align":"left"},"encoding":{"text":{"field":"t"}}},
{"data":{"values":[{"x":37.47,"y":0.39,"t":"M1"},{"x":37.47,"y":0.102,"t":"M1"},{"x":37.47,"y":-0.188,"t":"M1"},{"x":37.47,"y":-0.478,"t":"M1"},{"x":55.6,"y":0.427,"t":"M1"},{"x":55.6,"y":0.137,"t":"M1"},{"x":55.6,"y":-0.151,"t":"M1"},{"x":55.6,"y":-0.44,"t":"M1"},{"x":16.3,"y":0.717,"t":"M2"},{"x":28.53,"y":0.717,"t":"PG"}]},"mark":{"type":"text","fontSize":23,"align":"left","dy":18},"encoding":{"text":{"field":"t"}}},
{"data":{"values":[{"x":12.49,"y":0.303,"t":"CB"},{"x":12.49,"y":-0.031,"t":"VB"},{"x":36.67,"y":-1.408,"t":"M2"},{"x":30.95,"y":-1.829,"t":"M3"},{"x":43.6,"y":-1.889,"t":"M1"}]},"mark":{"type":"text","fontSize":37,"align":"center"},"encoding":{"text":{"field":"t"}}},
{"data":{"values":[{"x":14.81,"y":-2.28,"t":"source"},{"x":37.14,"y":-2.28,"t":"channel"},{"x":56.3,"y":-2.28,"t":"drain"}]},"mark":{"type":"text","fontSize":47,"align":"center"},"encoding":{"text":{"field":"t"}}},
{"data":{"values":[{"x":6.4,"y":1.02,"t":"d"}]},"mark":{"type":"text","fontSize":44,"align":"center"},"encoding":{"text":{"field":"t"}}},
{"data":{"values":[{"x":25.28,"x2":27.5,"y":-1.834,"y2":-1.834},{"x":35.6,"x2":34,"y":-1.82,"y2":-1.82},{"x":31.74,"x2":33.8,"y":-1.432,"y2":-1.432},{"x":40.95,"x2":39.4,"y":-1.408,"y2":-1.408},{"x":38.77,"x2":41,"y":-1.905,"y2":-1.905},{"x":47.8,"x2":46.2,"y":-1.892,"y2":-1.892},{"x":40.86,"x2":44.2,"y":-0.772,"y2":-1.139}]},"mark":{"type":"rule","color":"black","strokeWidth":5,"strokeCap":"round"},"encoding":{"x2":{"field":"x2"},"y2":{"field":"y2"}}},
{"data":{"values":[{"x":28.1,"y":-1.834,"d":"r"},{"x":33.3,"y":-1.82,"d":"l"},{"x":34.6,"y":-1.432,"d":"r"},{"x":38.7,"y":-1.408,"d":"l"},{"x":41.6,"y":-1.905,"d":"r"},{"x":45.5,"y":-1.892,"d":"l"}]},"mark":{"type":"point","filled":true,"color":"black","opacity":1,"size":480},"encoding":{"shape":{"field":"d","type":"nominal","legend":null,"scale":{"domain":["r","l"],"range":["triangle-right","triangle-left"]}}}},
{"data":{"values":[{"x":14.9,"y":-1.14}]},"mark":{"type":"point","filled":true,"color":"black","opacity":1,"size":40,"shape":"triangle-up"}},
{"data":{"values":[{"x":44.55,"y":-1.195}]},"mark":{"type":"point","filled":true,"color":"black","opacity":1,"size":480,"shape":"triangle-down","angle":324}}
]}
]}
